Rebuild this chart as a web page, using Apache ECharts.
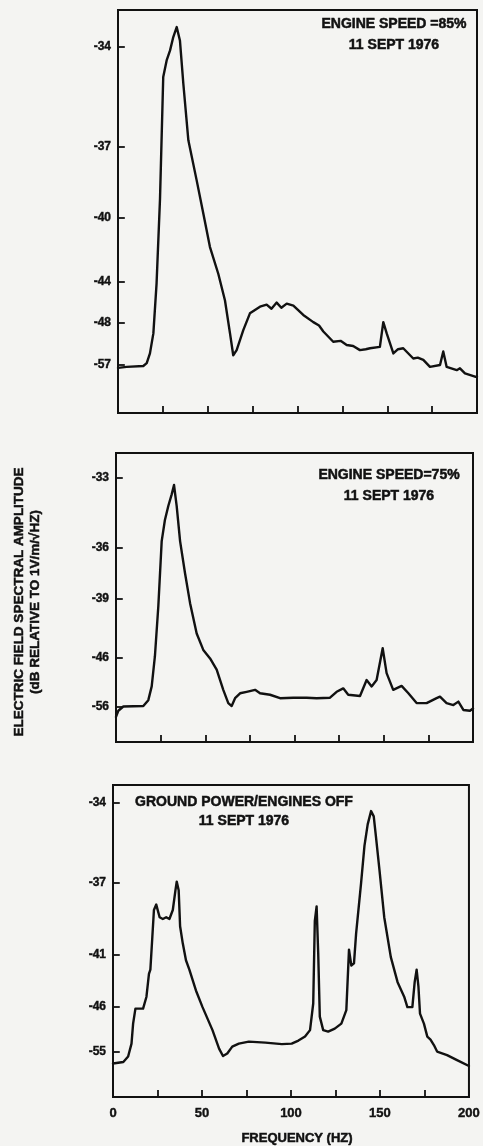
<!DOCTYPE html>
<html>
<head>
<meta charset="utf-8">
<script src="https://cdn.jsdelivr.net/npm/echarts@6/dist/echarts.min.js"></script>
<style>
  html, body { margin: 0; padding: 0; background: #f4f4f2; }
  #chart { width: 483px; height: 1146px; }
</style>
</head>
<body>
<div id="chart"></div>
<script>
// frequency axis (Hz)
const freqLabels = [0, 50, 100, 150, 200];

// panel 1: engine speed 85%
const p1TickDb = [-34, -37, -40, -44, -48, -57];
const p1TickLevel = [90.8, 66.0, 48.4, 32.5, 22.3, 11.9];
const p1Freq = [0, 1.1, 4.8, 14.1, 16, 17.8, 19.7, 21.5, 23.4, 25.2, 27.1, 29, 30.8, 32.7, 34.5, 36.4, 39.2, 43.8, 47.5, 51.2, 55.9, 59.6, 62.4, 64.2, 66.1, 69.8, 73.5, 79.1, 82.8, 85.5, 88.4, 91, 94, 97.7, 103.2, 108.8, 112, 114.4, 119.9, 124, 127.4, 131, 134.8, 138, 140.4, 145.9, 147.8, 149.7, 153.4, 156, 158.9, 164.5, 167, 170.1, 173.8, 179.4, 181.2, 183.1, 188.7, 190.5, 193.3, 198.9, 200];
const p1Db = [-57.6, -57.7, -57.4, -57.2, -56.6, -54.5, -50.2, -44.1, -39.2, -34.9, -34.4, -34.1, -33.7, -33.4, -33.8, -35.1, -36.8, -38.4, -39.8, -41.8, -43.5, -45.8, -50.2, -54.9, -53.8, -49.5, -47.05, -46.4, -46.2, -46.6, -46.0, -46.5, -46.1, -46.3, -47.2, -47.9, -48.5, -49.8, -52.0, -51.8, -52.7, -52.9, -53.8, -53.6, -53.4, -53.1, -47.9, -50.2, -54.5, -53.6, -53.4, -55.6, -55.4, -55.9, -57.4, -57.0, -54.1, -57.4, -58.1, -57.7, -58.8, -59.5, -59.5];

// panel 2: engine speed 75%
const p2TickDb = [-33, -36, -39, -46, -56];
const p2TickLevel = [91.35, 67.1, 49.5, 29.1, 12.1];
const p2Freq = [0, 1.3, 4.1, 15.3, 18.1, 20, 21.8, 23.7, 25.6, 27.4, 29.3, 31.2, 32.5, 34, 35.9, 38.7, 41.5, 45.2, 48.9, 52.7, 56.4, 60.1, 62.9, 64.8, 66.7, 69.5, 73.2, 77.9, 80.7, 86.3, 91.9, 99.3, 106.8, 112.4, 119.9, 123.6, 127.3, 130.1, 136.7, 140.4, 143.2, 146, 149.4, 151.6, 155.3, 160, 163.8, 168.4, 174, 179.6, 181.5, 185.2, 189, 191.8, 194.6, 198.3, 200];
const p2Db = [-58.0, -56.75, -55.9, -55.8, -54.6, -51.8, -45.8, -39.9, -35.7, -34.8, -34.2, -33.7, -33.3, -34.2, -35.7, -37.5, -39.5, -43.1, -45.05, -46.1, -48.4, -52.5, -55.2, -55.8, -54.2, -53.2, -52.9, -52.5, -53.2, -53.5, -54.2, -54.1, -54.1, -54.2, -54.1, -52.9, -52.2, -53.5, -53.75, -50.5, -51.8, -50.5, -44.85, -49.1, -52.5, -51.7, -53.2, -55.2, -55.2, -54.2, -53.9, -55.2, -55.6, -54.9, -56.6, -56.75, -56.3];

// panel 3: ground power / engines off
const p3TickDb = [-34, -37, -41, -46, -55];
const p3TickLevel = [94.2, 68.6, 45.5, 28.8, 14.4];
const p3Freq = [0, 5.8, 8.5, 10.4, 11.3, 12.6, 16.9, 18.8, 20.2, 21, 22.1, 23, 24.3, 26.2, 28, 29.9, 31.7, 33.6, 35.1, 35.8, 36.9, 37.7, 39.2, 41, 42.9, 46.6, 50.3, 55.9, 59.6, 61.8, 64.2, 67, 70.7, 76.3, 85.6, 94.9, 100.4, 104.2, 107.9, 110.7, 112.5, 113.4, 114.4, 115.3, 116.2, 118.1, 120.9, 124.6, 128.3, 131.1, 132.6, 133.9, 135.4, 136.6, 139.4, 141.3, 143.1, 145, 146.5, 147.8, 149.7, 152.4, 156.1, 159.9, 163.6, 165.4, 168.2, 169.5, 170.6, 171.6, 172.5, 174.7, 176.6, 178.4, 180.3, 182.1, 187.7, 193.3, 200];
const p3Db = [-57.3, -57.0, -55.9, -53.3, -49.3, -46.3, -46.3, -45.0, -42.8, -42.4, -40.0, -38.5, -38.2, -38.9, -39.0, -38.9, -39.0, -38.5, -37.4, -36.95, -37.4, -39.4, -40.35, -41.5, -42.4, -44.4, -46.0, -50.6, -54.3, -55.8, -55.3, -53.9, -53.3, -52.9, -53.1, -53.4, -53.3, -52.7, -51.9, -50.6, -45.65, -39.1, -38.3, -40.9, -47.9, -50.6, -50.9, -50.3, -49.3, -46.6, -40.7, -42.0, -41.8, -39.8, -37.0, -35.6, -34.8, -34.3, -34.5, -35.3, -36.5, -38.9, -41.2, -43.6, -45.0, -46.0, -46.0, -43.6, -42.4, -44.0, -47.3, -49.3, -51.9, -52.5, -53.6, -54.9, -55.6, -56.6, -57.8];

const panelNotes = [
  ['ENGINE SPEED =85%', '11 SEPT 1976'],
  ['ENGINE SPEED=75%', '11 SEPT 1976'],
  ['GROUND POWER/ENGINES OFF', '11 SEPT 1976']
];
const yTitle1 = 'ELECTRIC FIELD SPECTRAL AMPLITUDE';
const yTitle2 = '(dB RELATIVE TO 1V/m/\u221AHZ)';
const xTitle = 'FREQUENCY (HZ)';

const ink = '#111';
const fam = '"Liberation Sans", Arial, sans-serif';
const tickSpanHz = 3.8; // inward y tick length, in frequency units (~7px)

// the printed dB axes are not linear: map a dB value onto the plot level
// by interpolating between the labelled ticks
function dbToLevel(db, tickDb, tickLevel) {
  let i = 0;
  while (i < tickDb.length - 2 && db < tickDb[i + 1]) i++;
  const t = (db - tickDb[i]) / (tickDb[i + 1] - tickDb[i]);
  return tickLevel[i] + t * (tickLevel[i + 1] - tickLevel[i]);
}

function makeSeries(freq, db, tickDb, tickLevel, idx) {
  return {
    type: 'line',
    xAxisIndex: idx,
    yAxisIndex: idx,
    showSymbol: false,
    animation: false,
    lineStyle: { color: ink, width: 2.4, cap: 'round', join: 'round' },
    data: freq.map((f, i) => [f, dbToLevel(db[i], tickDb, tickLevel)]),
    // short inward ticks on the left frame at each labelled dB level
    markLine: {
      silent: true,
      symbol: 'none',
      animation: false,
      label: { show: false },
      lineStyle: { color: ink, width: 1.8, type: 'solid' },
      data: tickLevel.map((l) => [{ coord: [0, l] }, { coord: [tickSpanHz, l] }])
    }
  };
}

function makeYAxis(tickDb, tickLevel, idx) {
  return {
    type: 'value',
    gridIndex: idx,
    min: 0,
    max: 100,
    splitLine: { show: false },
    axisLine: { show: true, lineStyle: { color: ink, width: 2 } },
    axisTick: { show: false },
    axisLabel: {
      customValues: tickLevel,
      margin: 7,
      color: ink,
      fontSize: 12,
      fontWeight: 'bold',
      fontFamily: fam,
      textBorderColor: ink,
      textBorderWidth: 0.4,
      formatter: (v) => {
        const i = tickLevel.findIndex((l) => Math.abs(l - v) < 1e-6);
        return i >= 0 ? String(tickDb[i]) : '';
      }
    }
  };
}

function makeXAxis(idx, showLabels) {
  const ax = {
    type: 'value',
    gridIndex: idx,
    min: 0,
    max: 200,
    interval: 25,
    splitLine: { show: false },
    axisLine: { show: true, onZero: false, lineStyle: { color: ink, width: 2 } },
    axisTick: { show: true, inside: true, length: 7, lineStyle: { color: ink, width: 1.8 } },
    axisLabel: { show: false }
  };
  if (showLabels) {
    ax.axisLabel = {
      show: true,
      customValues: freqLabels,
      margin: 10,
      color: ink,
      fontSize: 13,
      fontWeight: 'bold',
      fontFamily: fam,
      textBorderColor: ink,
      textBorderWidth: 0.4
    };
  }
  return ax;
}

function noteText(x, y, text, size, rot) {
  return {
    type: 'text',
    x: x,
    y: y,
    rotation: rot || 0,
    style: {
      text: text,
      align: 'center',
      verticalAlign: 'middle',
      fill: ink,
      stroke: ink,
      lineWidth: 0.5,
      font: 'bold ' + size + 'px ' + fam
    }
  };
}

const gridStyle = { show: true, borderColor: ink, borderWidth: 2, backgroundColor: 'transparent' };

const chart = echarts.init(document.getElementById('chart'), null, { renderer: 'canvas' });
chart.setOption({
  backgroundColor: '#f4f4f2',
  animation: false,
  grid: [
    Object.assign({ left: 118, top: 10, width: 359, height: 403 }, gridStyle),
    Object.assign({ left: 116, top: 453, width: 357, height: 289 }, gridStyle),
    Object.assign({ left: 113, top: 785, width: 359, height: 312 }, gridStyle)
  ],
  xAxis: [makeXAxis(0, false), makeXAxis(1, false), makeXAxis(2, true)],
  yAxis: [
    makeYAxis(p1TickDb, p1TickLevel, 0),
    makeYAxis(p2TickDb, p2TickLevel, 1),
    makeYAxis(p3TickDb, p3TickLevel, 2)
  ],
  series: [
    makeSeries(p1Freq, p1Db, p1TickDb, p1TickLevel, 0),
    makeSeries(p2Freq, p2Db, p2TickDb, p2TickLevel, 1),
    makeSeries(p3Freq, p3Db, p3TickDb, p3TickLevel, 2)
  ],
  graphic: [
    noteText(394, 24, panelNotes[0][0], 14),
    noteText(394, 45, panelNotes[0][1], 14),
    noteText(389, 475, panelNotes[1][0], 14),
    noteText(389, 496, panelNotes[1][1], 14),
    noteText(244, 802, panelNotes[2][0], 14),
    noteText(244, 821, panelNotes[2][1], 14),
    noteText(297, 1138, xTitle, 13),
    noteText(19, 602, yTitle1, 13.5, Math.PI / 2),
    noteText(35, 602, yTitle2, 13.5, Math.PI / 2)
  ]
});
</script>
</body>
</html>
